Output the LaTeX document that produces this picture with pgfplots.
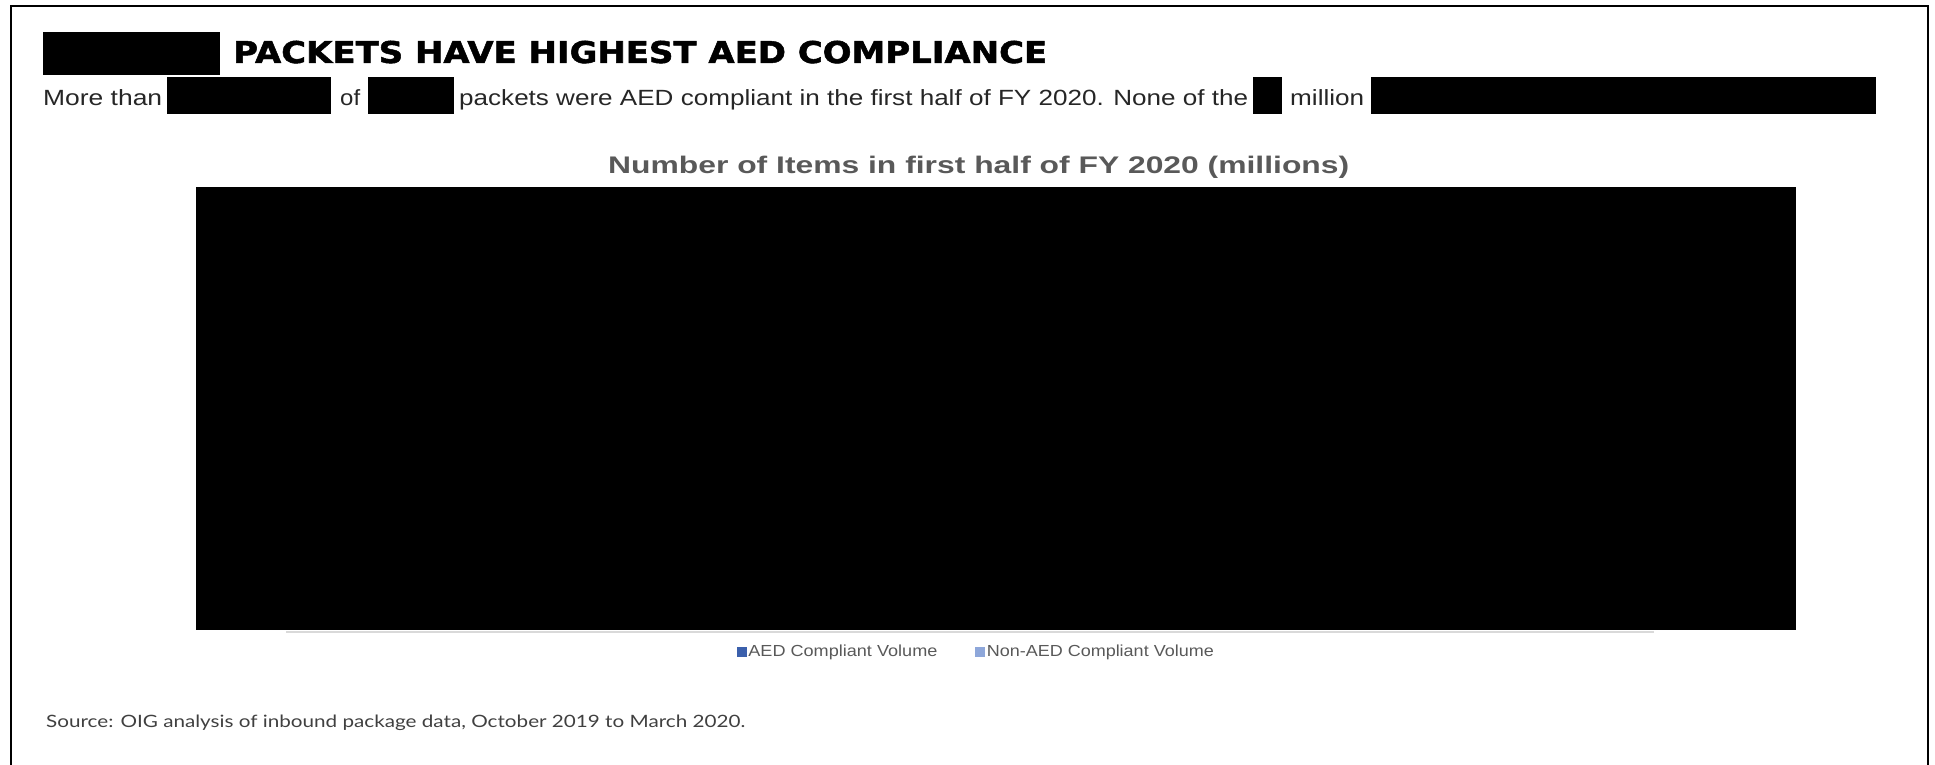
\documentclass[border=0pt]{standalone}
\usepackage{pgfplots}
\pgfplotsset{compat=1.18}
\usepackage{fontspec}
\setmainfont{Liberation Sans}
\newfontfamily\headfont[BoldFeatures={FakeBold=1.6}]{DejaVu Sans}
\newfontfamily\srcfont{Lato}
\definecolor{aeddark}{RGB}{59,96,172}
\definecolor{aedlight}{RGB}{142,167,218}
\definecolor{txtgray}{RGB}{89,89,89}
\definecolor{subgray}{RGB}{38,38,38}
\definecolor{srcgray}{RGB}{64,64,64}
\definecolor{axgray}{RGB}{217,217,217}
\newcommand{\W}[2]{\resizebox{#1pt}{\height}{#2}}
\begin{document}
\begin{tikzpicture}[x=1pt,y=1pt]
\useasboundingbox (0,0) rectangle (1935,765);
% outer frame
\draw[line width=2.5pt] (11,-10) -- (11,759) -- (1928,759) -- (1928,-10);
% heading
\fill (43,765-75) rectangle (220,765-32);
\node[anchor=base west,inner sep=0pt] at (233,765-63) {\W{814}{\headfont\bfseries\fontsize{30}{34}\selectfont PACKETS HAVE HIGHEST AED COMPLIANCE}};
% subtitle line
\begin{scope}[every node/.style={anchor=base west,inner sep=0pt,text=subgray}]
\node at (43,765-106) {\W{119}{\fontsize{22}{26}\selectfont More than}};
\fill (167,765-114) rectangle (331,765-77);
\node at (340,765-106) {\W{20}{\fontsize{22}{26}\selectfont of}};
\fill (368,765-114) rectangle (454,765-77);
\node at (459,765-106) {\W{789}{\fontsize{22}{26}\selectfont packets were AED compliant in the first half of FY 2020. None of the}};
\fill (1253,765-114) rectangle (1282,765-77);
\node at (1290,765-106) {\W{74}{\fontsize{22}{26}\selectfont million}};
\fill (1371,765-114) rectangle (1876,765-77);
\end{scope}
% chart title
\node[anchor=base west,inner sep=0pt,text=txtgray] at (608,765-174) {\W{741}{\bfseries\fontsize{24}{28}\selectfont Number of Items in first half of FY 2020 (millions)}};
% category axis line visible below the redacted plot area
\draw[axgray,line width=2pt] (286,765-632) -- (1654,765-632);
\begin{axis}[
  at={(196pt,135pt)}, anchor=south west,
  width=1600pt, height=443pt, scale only axis,
  xmin=0, xmax=1, ymin=0, ymax=1,
  axis line style={draw=none},
  axis background/.style={fill=black},
  xtick=\empty, ytick=\empty,
  legend columns=2,
  legend style={at={(axis description cs:0.338,-0.0323)}, anchor=north west,
    draw=none, fill=none, font=\fontsize{16}{19}\selectfont, text=txtgray,
    inner sep=0pt, row sep=0pt,
    /tikz/every odd column/.style={column sep=0pt},
    /tikz/every even column/.style={column sep=38pt},
    nodes={inner sep=0pt, anchor=base west}},
  legend cell align=left,
]
\addlegendimage{legend image code/.code={\fill[aeddark] (0pt,0pt) rectangle (9pt,9pt);}}
\addlegendentry{\hspace{2pt}\W{189}{AED Compliant Volume}}
\addlegendimage{legend image code/.code={\fill[aedlight] (0pt,0pt) rectangle (9pt,9pt);}}
\addlegendentry{\hspace{2pt}\W{227}{Non-AED Compliant Volume}}
\end{axis}
% source note
\node[anchor=base west,inner sep=0pt,text=srcgray] at (46,765-728) {\W{699}{\srcfont\fontsize{17}{20}\selectfont Source: OIG analysis of inbound package data, October 2019 to March 2020.}};
\end{tikzpicture}
\end{document}
